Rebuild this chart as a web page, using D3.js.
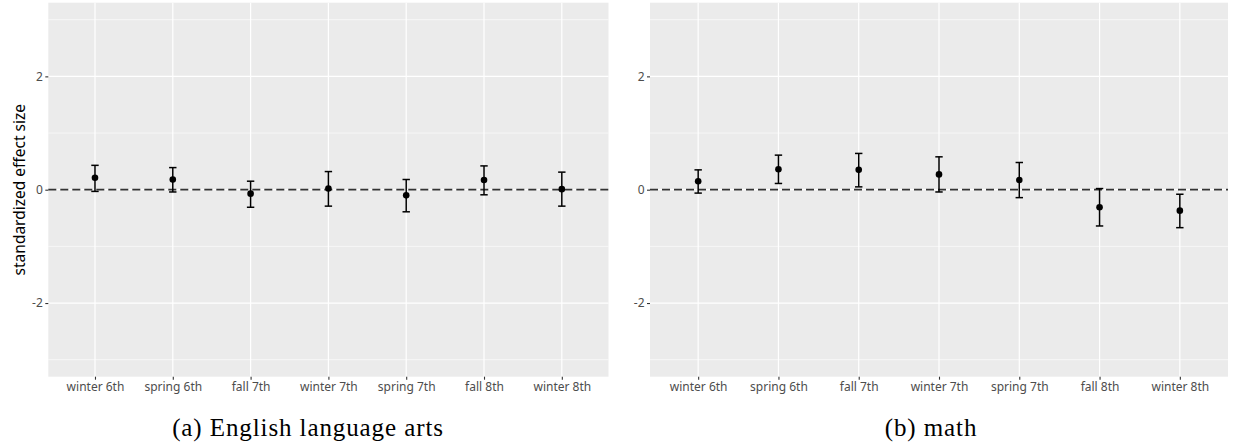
<!DOCTYPE html>
<html>
<head>
<meta charset="utf-8">
<script src="https://cdn.jsdelivr.net/npm/d3@7"></script>
<style>
  html, body { margin: 0; padding: 0; background: #ffffff; }
  svg { display: block; }
</style>
</head>
<body>
<svg id="chart" width="1233" height="448"></svg>
<script>
// Survey waves along the x axis
const waves = ["winter 6th", "spring 6th", "fall 7th", "winter 7th", "spring 7th", "fall 8th", "winter 8th"];

// English language arts: point estimates and 95% interval bounds
const elaEstimate = [0.21, 0.18, -0.07, 0.02, -0.10, 0.17, 0.01];
const elaLower    = [-0.03, -0.04, -0.31, -0.29, -0.39, -0.09, -0.29];
const elaUpper    = [0.43, 0.39, 0.15, 0.32, 0.18, 0.42, 0.31];

// Math: point estimates and 95% interval bounds
const mathEstimate = [0.15, 0.36, 0.35, 0.27, 0.17, -0.31, -0.37];
const mathLower    = [-0.06, 0.11, 0.05, -0.04, -0.14, -0.64, -0.67];
const mathUpper    = [0.35, 0.61, 0.64, 0.58, 0.48, 0.02, -0.08];

// Axis ticks
const yMajorTicks = [-2, 0, 2];
const yMinorTicks = [-3, -1, 1, 3];
const yDomain = [-3.3, 3.3];

const captions = ["(a) English language arts", "(b) math"];

const svg = d3.select("#chart");

const panelTop = 2.7, panelBottom = 376.7;
const y = d3.scaleLinear().domain(yDomain).range([panelBottom, panelTop]);

function drawPanel(cfg) {
  const x = d3.scalePoint().domain(waves).range([cfg.left, cfg.right]).padding(0.6);
  const g = svg.append("g");

  // panel background
  g.append("rect")
    .attr("x", cfg.left).attr("y", panelTop)
    .attr("width", cfg.right - cfg.left).attr("height", panelBottom - panelTop)
    .attr("fill", "#ebebeb");

  // minor horizontal grid
  g.selectAll(".minor").data(yMinorTicks).join("line")
    .attr("x1", cfg.left).attr("x2", cfg.right)
    .attr("y1", d => y(d)).attr("y2", d => y(d))
    .attr("stroke", "#ffffff").attr("stroke-width", 0.6);

  // major horizontal grid
  g.selectAll(".major").data(yMajorTicks).join("line")
    .attr("x1", cfg.left).attr("x2", cfg.right)
    .attr("y1", d => y(d)).attr("y2", d => y(d))
    .attr("stroke", "#ffffff").attr("stroke-width", 1.2);

  // vertical grid at each wave
  g.selectAll(".vgrid").data(waves).join("line")
    .attr("x1", d => x(d)).attr("x2", d => x(d))
    .attr("y1", panelTop).attr("y2", panelBottom)
    .attr("stroke", "#ffffff").attr("stroke-width", 1.2);

  // y axis (plain hyphen for negative numbers)
  const yAxis = d3.axisLeft(y).tickValues(yMajorTicks).tickSize(3).tickPadding(2.5)
    .tickFormat(d => String(d));
  const ya = g.append("g").attr("transform", `translate(${cfg.left},0)`).call(yAxis);
  ya.select(".domain").remove();
  ya.selectAll(".tick line").attr("stroke", "#333333").attr("stroke-width", 1.1);
  ya.selectAll(".tick text").attr("fill", "#4d4d4d")
    .style("font-family", "'Noto Sans', sans-serif").style("font-size", "12px");

  // x axis
  const xAxis = d3.axisBottom(x).tickSize(3).tickPadding(2.5);
  const xa = g.append("g").attr("transform", `translate(0,${panelBottom})`).call(xAxis);
  xa.select(".domain").remove();
  xa.selectAll(".tick line").attr("stroke", "#333333").attr("stroke-width", 1.1);
  xa.selectAll(".tick text").attr("fill", "#4d4d4d")
    .style("font-family", "'Noto Sans', sans-serif").style("font-size", "12px");

  // reference line at zero
  g.append("line")
    .attr("x1", cfg.left).attr("x2", cfg.right)
    .attr("y1", y(0)).attr("y2", y(0))
    .attr("stroke", "#333333").attr("stroke-width", 1.7)
    .attr("stroke-dasharray", "8,4");

  const rows = waves.map((w, i) => ({ w, est: cfg.est[i], lo: cfg.lo[i], hi: cfg.hi[i] }));
  const capHalf = 3.7;

  // error bars
  const eb = g.selectAll(".eb").data(rows).join("g");
  eb.append("line")
    .attr("x1", d => x(d.w)).attr("x2", d => x(d.w))
    .attr("y1", d => y(d.lo)).attr("y2", d => y(d.hi))
    .attr("stroke", "#000000").attr("stroke-width", 1.5);
  eb.append("line")
    .attr("x1", d => x(d.w) - capHalf).attr("x2", d => x(d.w) + capHalf)
    .attr("y1", d => y(d.hi)).attr("y2", d => y(d.hi))
    .attr("stroke", "#000000").attr("stroke-width", 1.5);
  eb.append("line")
    .attr("x1", d => x(d.w) - capHalf).attr("x2", d => x(d.w) + capHalf)
    .attr("y1", d => y(d.lo)).attr("y2", d => y(d.lo))
    .attr("stroke", "#000000").attr("stroke-width", 1.5);

  // point estimates
  g.selectAll(".pt").data(rows).join("circle")
    .attr("cx", d => x(d.w)).attr("cy", d => y(d.est)).attr("r", 3.3)
    .attr("fill", "#000000");

  // caption under the panel
  svg.append("text")
    .attr("x", cfg.captionX).attr("y", 436)
    .attr("text-anchor", "middle")
    .style("font-family", "'Liberation Serif', serif").style("font-size", "25px")
    .style("letter-spacing", "0.9px")
    .attr("fill", "#000000")
    .text(cfg.caption);
}

drawPanel({ left: 48.3, right: 608.5, est: elaEstimate, lo: elaLower, hi: elaUpper,
            caption: captions[0], captionX: 308 });
drawPanel({ left: 650, right: 1228, est: mathEstimate, lo: mathLower, hi: mathUpper,
            caption: captions[1], captionX: 931 });

// shared y axis title on the left panel
svg.append("text")
  .attr("transform", `translate(18.5,${y(0)}) rotate(-90)`)
  .attr("text-anchor", "middle")
  .attr("dominant-baseline", "central")
  .style("font-family", "'Noto Sans', sans-serif").style("font-size", "15.5px")
  .attr("fill", "#000000")
  .text("standardized effect size");
</script>
</body>
</html>
